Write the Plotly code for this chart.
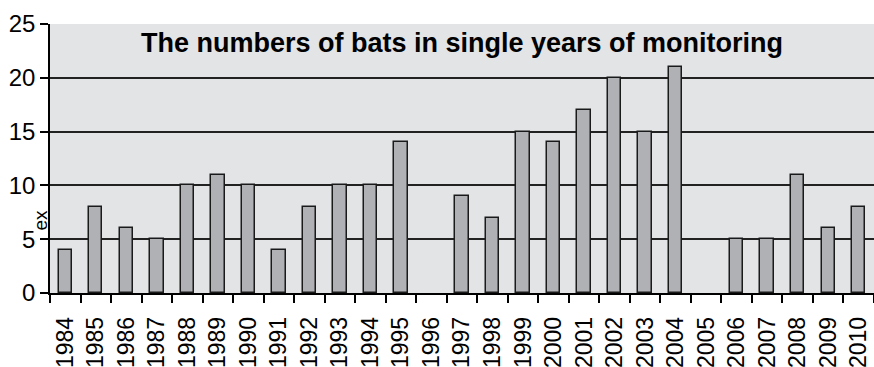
import plotly.graph_objects as go

years = [str(y) for y in range(1984, 2011)]
counts = [4, 8, 6, 5, 10, 11, 10, 4, 8, 10, 10, 14, None, 9, 7, 15, 14, 17, 20, 15, 21, None, 5, 5, 11, 6, 8]
y_ticks = [0, 5, 10, 15, 20, 25]
title_text = "The numbers of bats in single years of monitoring"
y_label = "ex"

FONT = "Liberation Sans, Arial, Helvetica, sans-serif"

fig = go.Figure()
fig.add_trace(go.Bar(
    x=years, y=counts, width=0.44,
    marker=dict(color="#b0b1b5", line=dict(color="#1a1a1a", width=1.5)),
    showlegend=False, hoverinfo="x+y",
))

fig.update_layout(
    width=874, height=367,
    margin=dict(l=50, r=0, t=24, b=74),
    paper_bgcolor="white",
    plot_bgcolor="#e3e4e6",
    font=dict(family=FONT, color="black"),
    bargap=0,
    xaxis=dict(
        type="category", tickangle=-90, tickfont=dict(size=23),
        range=[-0.5, 26.5], tickmode="array", tickvals=years, ticktext=years,
        showline=True, linecolor="black", linewidth=1.5,
        ticks="outside", ticklen=8, tickwidth=1.5, tickcolor="black",
        tickson="boundaries", showgrid=False, ticklabelstandoff=13,
        automargin=False,
    ),
    yaxis=dict(
        range=[0, 25], tickvals=y_ticks, tickfont=dict(size=24),
        showline=True, linecolor="black", linewidth=1.5,
        ticks="outside", ticklen=8, tickwidth=1.5, tickcolor="black",
        showgrid=True, gridcolor="#222222", gridwidth=1.5, zeroline=False,
        automargin=False,
    ),
    annotations=[
        dict(text="<b>" + title_text + "</b>", xref="paper", yref="paper",
             x=0.5, y=0.929, xanchor="center", yanchor="middle", showarrow=False,
             font=dict(size=27, family=FONT, color="black")),
        dict(text=y_label, xref="paper", yref="paper",
             x=-0.012, y=0.27, xanchor="center", yanchor="middle", showarrow=False,
             textangle=-90, font=dict(size=19, family=FONT, color="black")),
    ],
)

fig.write_html("out.html")
